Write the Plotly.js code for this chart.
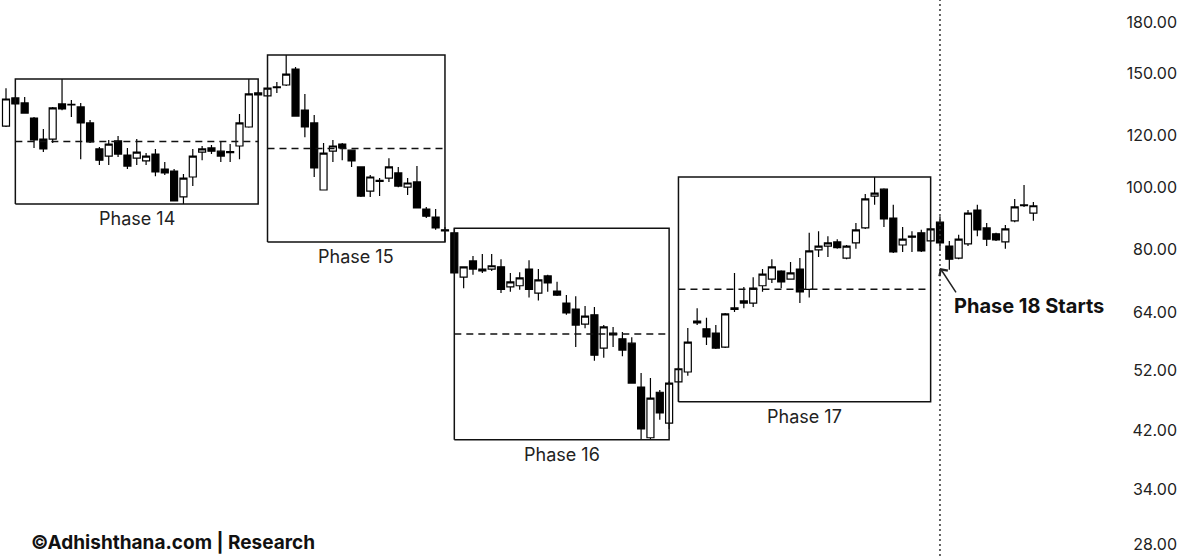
<!DOCTYPE html>
<html><head><meta charset="utf-8">
<script src="https://cdn.plot.ly/plotly-3.0.1.min.js"></script>
<style>html,body{margin:0;padding:0;background:#fff}#chart{width:1200px;height:556px}</style>
</head><body><div id="chart"></div>
<script>
const openP = [124.2,137.3,134.9,127.8,118.6,118.6,134.4,134.2,133.0,125.6,
114.5,111.6,117.8,112.0,110.8,109.7,112.4,106.6,105.8,96.5,
103.6,113.2,114.9,113.6,113.0,115.7,123.8,139.8,138.3,142.5,
143.8,152.2,131.5,125.6,98.9,113.6,116.5,114.0,107.4,98.5,
102.4,103.2,105.1,99.9,101.8,92.4,89.8,85.8,84.9,72.5,
76.8,74.6,74.6,75.2,70.0,70.3,74.6,68.5,72.8,69.0,
66.1,64.7,61.3,63.4,56.3,59.4,58.2,57.3,49.0,40.9,
48.1,43.1,49.9,51.7,62.0,60.3,59.4,56.5,64.6,66.1,
66.1,70.3,72.0,74.1,72.0,74.6,69.4,79.9,81.0,82.2,
77.6,81.9,86.4,96.8,99.2,89.5,81.3,83.9,84.9,82.5,
88.2,81.0,77.6,81.6,92.1,86.4,84.6,82.2,88.6,93.5,
91.1];
const highP = [142.2,137.8,137.8,128.3,122.9,133.0,146.9,136.3,134.9,126.9,
115.3,118.2,119.9,114.9,118.6,112.8,114.5,109.3,106.6,104.7,
114.5,115.7,116.1,117.8,116.5,129.7,146.9,140.3,142.7,145.3,
160.0,153.3,139.3,129.2,116.9,118.2,116.9,114.3,107.6,104.3,
103.2,110.8,107.4,103.2,107.7,93.1,92.4,86.7,86.3,75.4,
78.2,78.7,78.7,77.3,73.6,73.8,77.0,74.6,73.1,71.3,
68.0,67.7,65.4,65.2,61.1,60.7,59.6,58.5,51.5,50.6,
48.5,50.0,52.6,60.5,64.9,62.7,61.1,63.8,73.6,70.0,
72.5,74.6,77.3,74.3,76.5,77.6,84.9,85.4,83.9,83.0,
81.3,87.9,97.5,103.6,99.5,93.8,86.7,85.4,85.8,86.4,
90.1,82.5,84.3,92.1,93.8,87.9,84.9,87.3,95.8,100.7,
94.8];
const lowP = [123.8,133.9,129.8,114.9,113.2,116.9,131.4,128.3,110.4,116.9,
108.1,108.1,111.2,106.6,108.1,108.1,103.9,104.3,94.9,94.1,
100.3,110.0,112.4,109.3,109.3,110.4,123.5,138.6,137.8,139.8,
143.3,128.4,119.4,103.6,98.7,109.3,110.0,107.4,96.5,96.5,
96.8,101.8,99.9,97.2,92.6,89.5,85.8,82.2,73.4,69.7,
73.1,73.6,74.1,68.5,68.8,69.3,67.4,66.7,68.8,67.8,
63.4,56.5,60.4,53.8,54.4,56.5,54.7,49.6,40.6,40.6,
43.6,42.2,46.5,51.0,61.1,56.9,56.1,56.3,64.0,64.9,
65.2,68.8,71.0,69.7,71.8,66.1,67.4,77.9,77.9,80.2,
77.3,80.2,86.1,93.8,86.7,79.0,79.3,79.3,79.3,82.2,
80.0,74.4,77.3,81.0,83.9,81.0,82.5,80.2,88.2,93.1,
88.6];
const closeP = [136.8,134.4,130.1,118.2,114.5,132.5,132.1,133.9,125.6,117.4,
110.0,116.5,112.4,107.7,113.2,111.6,105.5,105.1,95.1,103.2,
111.6,114.5,113.6,111.6,113.4,125.6,139.3,138.8,142.2,142.9,
149.5,128.7,123.8,107.0,112.8,115.7,114.9,109.7,96.8,103.6,
102.0,107.4,100.3,101.4,92.8,90.1,86.4,85.5,73.6,75.2,
74.6,74.1,75.5,69.4,71.3,72.3,69.4,71.8,71.0,68.0,
63.8,61.1,63.1,54.9,60.7,59.0,55.9,49.7,42.2,47.1,
44.7,49.7,52.3,57.5,61.6,58.6,56.3,63.6,65.0,66.6,
69.7,73.3,75.2,71.3,73.6,68.8,79.6,81.0,81.9,80.5,
81.0,85.8,95.8,97.8,89.2,79.3,83.0,83.6,79.6,86.1,
81.9,77.3,83.0,91.1,85.8,83.0,82.8,86.1,93.1,93.8,
93.5];

const phaseNames = ['Phase 14','Phase 15','Phase 16','Phase 17'];
const phaseStart = [1, 28, 48, 72];
const phaseEnd   = [27, 47, 71, 99];
const phase18Start = 100;
const phase18Label = 'Phase 18 Starts';

const tickVals = [28, 34, 42, 52, 64, 80, 100, 120, 150, 180];
const tickText = tickVals.map(v => v.toFixed(2));

const idx = openP.map((_, i) => i);

const traces = [{
  type: 'candlestick', x: idx, open: openP, high: highP, low: lowP, close: closeP,
  increasing: {line: {color: '#000', width: 1.2}, fillcolor: '#fff'},
  decreasing: {line: {color: '#000', width: 1.2}, fillcolor: '#000'},
  whiskerwidth: 0, hoverinfo: 'skip', showlegend: false
}];

const annotations = [];
phaseNames.forEach((name, k) => {
  const s = phaseStart[k], e = phaseEnd[k];
  const hi = Math.max(...highP.slice(s, e + 1));
  const lo = Math.min(...lowP.slice(s, e + 1));
  const mid = Math.sqrt(hi * lo);
  traces.push({type: 'scatter', mode: 'lines', x: [s, e, e, s, s], y: [lo, lo, hi, hi, lo],
    line: {color: '#111', width: 1.5}, hoverinfo: 'skip', showlegend: false});
  traces.push({type: 'scatter', mode: 'lines', x: [s, e], y: [mid, mid],
    line: {color: '#111', width: 1.5, dash: '7px,5px'}, hoverinfo: 'skip', showlegend: false});
  annotations.push({xref: 'x', yref: 'y', x: (s + e) / 2, y: Math.log10(lo), text: name,
    showarrow: false, yanchor: 'top', xanchor: 'center', yshift: -2,
    font: {size: 18, color: '#222'}});
});

annotations.push({xref: 'x', yref: 'y', x: phase18Start + 1.3, y: Math.log10(65.3), text: '<b>' + phase18Label + '</b>',
  showarrow: false, xanchor: 'left', yanchor: 'middle', font: {size: 20, color: '#111'}});
annotations.push({xref: 'x', yref: 'y', x: phase18Start, y: Math.log10(lowP[phase18Start + 1] * 1.007), text: '',
  showarrow: true, arrowhead: 4, arrowsize: 1.3, arrowwidth: 1.5, arrowcolor: '#222', ax: 17, ay: 26, standoff: 0});
annotations.push({xref: 'paper', yref: 'paper', x: 0.0245, y: 0.0245, text: '<b>©Adhishthana.com | Research</b>',
  showarrow: false, xanchor: 'left', yanchor: 'middle', font: {size: 19, color: '#111'}});

const shapes = [{type: 'line', xref: 'x', yref: 'paper', x0: phase18Start, x1: phase18Start, y0: 0, y1: 1,
  line: {color: '#333', width: 1.5, dash: '2px,3px'}}];

const layout = {
  width: 1200, height: 556, margin: {l: 0, r: 0, t: 0, b: 0},
  paper_bgcolor: '#fff', plot_bgcolor: '#fff', showlegend: false,
  boxgap: 0.25, boxgroupgap: 0,
  font: {family: 'Inter, "Noto Sans", sans-serif', color: '#131722'},
  xaxis: {range: [-0.642, 127.84], visible: false, rangeslider: {visible: false}, fixedrange: true},
  yaxis: {type: 'log', range: [1.42865, 2.28933], side: 'right', tickvals: tickVals, ticktext: tickText,
    ticklabelposition: 'inside', ticks: '', showgrid: false, zeroline: false, showline: false,
    tickfont: {size: 16, color: '#222'}, ticklabelstandoff: 20, fixedrange: true},
  annotations: annotations, shapes: shapes
};

Plotly.newPlot('chart', traces, layout, {displayModeBar: false, staticPlot: true});
</script></body></html>
